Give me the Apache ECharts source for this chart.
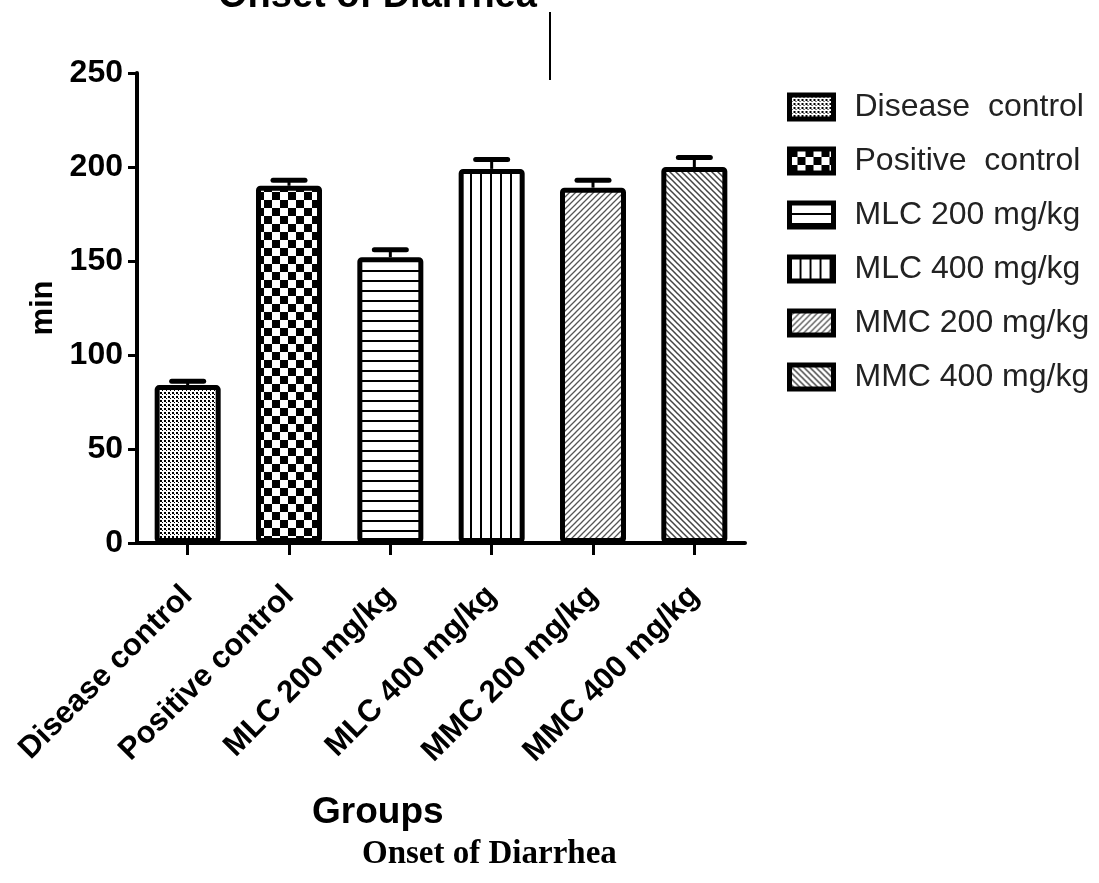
<!DOCTYPE html>
<html>
<head>
<meta charset="utf-8">
<script src="https://cdn.jsdelivr.net/npm/echarts@6/dist/echarts.min.js"></script>
<style>
html,body{margin:0;padding:0;background:#fff;}
#chart{width:1099px;height:883px;}
</style>
</head>
<body>
<div id="chart"></div>
<script>
// ---- data ----
var categories = ['Disease control', 'Positive control', 'MLC 200 mg/kg', 'MLC 400 mg/kg', 'MMC 200 mg/kg', 'MMC 400 mg/kg'];
var legendNames = ['Disease  control', 'Positive  control', 'MLC 200 mg/kg', 'MLC 400 mg/kg', 'MMC 200 mg/kg', 'MMC 400 mg/kg'];
var means = [84, 190, 152, 199, 189, 200];
var sems = [2, 3, 4, 5, 4, 5];
var yTicks = [0, 50, 100, 150, 200, 250];

// ---- patterns ----
function tile(w, h, draw) {
  var c = document.createElement('canvas');
  c.width = w; c.height = h;
  var ctx = c.getContext('2d');
  ctx.fillStyle = '#fff';
  ctx.fillRect(0, 0, w, h);
  ctx.fillStyle = '#000';
  ctx.strokeStyle = '#000';
  draw(ctx);
  return c;
}
var patterns = [
  tile(4, 4, function (ctx) { ctx.fillRect(0, 0, 2, 2); ctx.fillRect(2, 2, 1, 1); }),
  tile(16, 16, function (ctx) { ctx.fillRect(0, 0, 8, 8); ctx.fillRect(8, 8, 8, 8); }),
  tile(4, 10, function (ctx) { ctx.fillRect(0, 0, 4, 2); }),
  tile(10, 4, function (ctx) { ctx.fillRect(0, 0, 2, 4); }),
  tile(6, 6, function (ctx) {
    ctx.strokeStyle = '#555'; ctx.lineWidth = 1.3;
    ctx.beginPath();
    ctx.moveTo(-1, 7); ctx.lineTo(7, -1);
    ctx.moveTo(-1, 1); ctx.lineTo(1, -1);
    ctx.moveTo(5, 7); ctx.lineTo(7, 5);
    ctx.stroke();
  }),
  tile(6, 6, function (ctx) {
    ctx.strokeStyle = '#444'; ctx.lineWidth = 1.5;
    ctx.beginPath();
    ctx.moveTo(-1, -1); ctx.lineTo(7, 7);
    ctx.moveTo(5, -1); ctx.lineTo(7, 1);
    ctx.moveTo(-1, 5); ctx.lineTo(1, 7);
    ctx.stroke();
  })
];

var series = categories.map(function (cat, i) {
  var d = categories.map(function (c, j) { return j === i ? means[j] : null; });
  return {
    name: legendNames[i],
    type: 'bar',
    stack: 'all',
    barWidth: 66,
    data: d,
    z: 2,
    itemStyle: {
      color: { image: patterns[i], repeat: 'repeat' },
      borderColor: '#000',
      borderWidth: 5,
      borderRadius: 2
    }
  };
});

series.push({
  type: 'custom',
  name: 'err',
  z: 3,
  data: categories.map(function (c, i) { return [i, means[i], means[i] + sems[i]]; }),
  renderItem: function (params, api) {
    var x = api.value(0);
    var base = api.coord([x, api.value(1)]);
    var top = api.coord([x, api.value(2)]);
    var half = 16;
    return {
      type: 'group',
      children: [
        { type: 'line', shape: { x1: base[0], y1: base[1], x2: top[0], y2: top[1] }, style: { stroke: '#000', lineWidth: 3 } },
        { type: 'line', shape: { x1: top[0] - half, y1: top[1], x2: top[0] + half, y2: top[1] }, style: { stroke: '#000', lineWidth: 5, lineCap: 'round' } }
      ]
    };
  },
  encode: { x: 0, y: [1, 2] }
});

var chart = echarts.init(document.getElementById('chart'), null, { renderer: 'canvas' });
chart.setOption({
  animation: false,
  backgroundColor: '#fff',
  grid: { left: 137, right: 354, top: 73, bottom: 340, containLabel: false },
  legend: {
    orient: 'vertical',
    left: 782,
    top: 86,
    itemWidth: 44,
    itemHeight: 24,
    itemGap: 22,
    icon: 'rect',
    selectedMode: false,
    data: legendNames,
    itemStyle: { borderColor: '#000', borderWidth: 5 },
    textStyle: { fontFamily: 'Liberation Sans, Arial, sans-serif', fontSize: 32, color: '#222', padding: [0, 0, 0, 16] }
  },
  xAxis: {
    type: 'category',
    data: categories,
    axisLine: { lineStyle: { color: '#000', width: 4 } },
    axisTick: { show: true, alignWithLabel: true, length: 12, lineStyle: { color: '#000', width: 3 } },
    axisLabel: {
      interval: 0,
      rotate: 45,
      margin: 48,
      color: '#000',
      fontWeight: 'bold',
      fontSize: 31,
      fontFamily: 'Liberation Sans, Arial, sans-serif'
    }
  },
  yAxis: {
    type: 'value',
    min: 0,
    max: 250,
    interval: 50,
    splitLine: { show: false },
    axisLine: { show: true, lineStyle: { color: '#000', width: 4 } },
    axisTick: { show: true, length: 9, lineStyle: { color: '#000', width: 3 } },
    axisLabel: {
      color: '#000',
      fontWeight: 'bold',
      fontSize: 32,
      margin: 14,
      fontFamily: 'Liberation Sans, Arial, sans-serif',
      formatter: function (v) { return yTicks.indexOf(v) >= 0 ? String(v) : ''; }
    },
    name: 'min',
    nameLocation: 'middle',
    nameGap: 62,
    nameRotate: 90,
    nameTextStyle: { fontSize: 31, fontWeight: 'bold', color: '#000', fontFamily: 'Liberation Sans, Arial, sans-serif' }
  },
  series: series,
  graphic: [
    {
      type: 'text',
      left: 218,
      top: -22,
      style: {
        text: 'Onset of Diarrhea',
        fontSize: 38,
        fontWeight: 'bold',
        fontFamily: 'Liberation Sans, Arial, sans-serif',
        fill: '#000'
      }
    },
    {
      type: 'line',
      shape: { x1: 550, y1: 12, x2: 550, y2: 80 },
      style: { stroke: '#000', lineWidth: 2 }
    },
    {
      type: 'text',
      left: 312,
      top: 794,
      style: {
        text: 'Groups',
        fontSize: 37,
        fontWeight: 'bold',
        fontFamily: 'Liberation Sans, Arial, sans-serif',
        fill: '#000'
      }
    },
    {
      type: 'text',
      left: 362,
      top: 838,
      style: {
        text: 'Onset of Diarrhea',
        fontSize: 33,
        fontWeight: 'bold',
        fontFamily: 'Liberation Serif, Times New Roman, serif',
        fill: '#000'
      }
    }
  ]
});
</script>
</body>
</html>
